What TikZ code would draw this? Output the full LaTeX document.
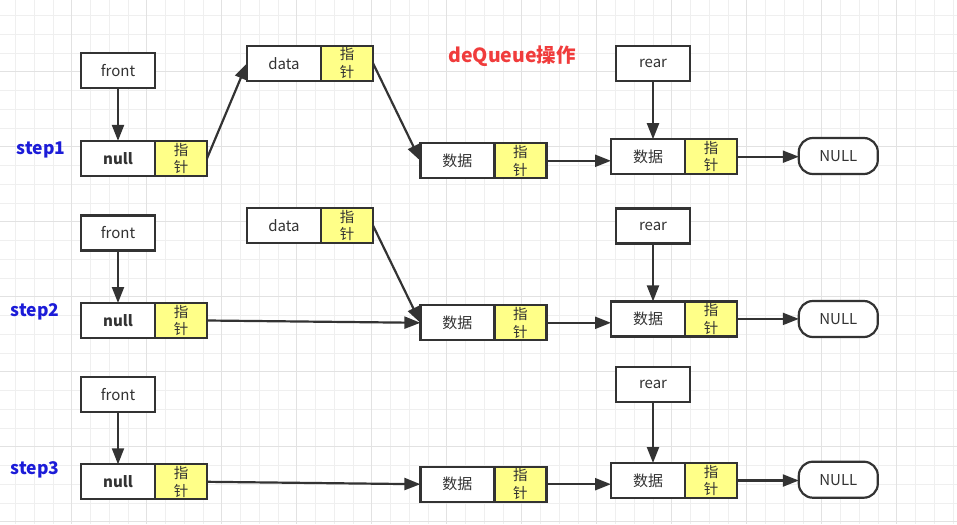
\documentclass[tikz,border=0pt]{standalone}
\usepackage{fontspec}
\setmainfont{Noto Sans CJK SC}
\usetikzlibrary{arrows.meta,positioning}

\definecolor{boxline}{HTML}{333333}
\definecolor{ptrfill}{HTML}{FFFF88}
\definecolor{titlered}{HTML}{F03C3C}
\definecolor{stepblue}{HTML}{1C1CD8}
\definecolor{gridminor}{HTML}{EFEFEF}
\definecolor{gridmajor}{HTML}{E2E2E2}

\tikzset{
  cell/.style={draw=boxline, line width=2.2pt, fill=white, text=boxline,
    minimum width=74pt, minimum height=35pt, inner sep=0pt, outer sep=0pt,
    font=\fontsize{15}{17}\selectfont},
  ptr/.style={cell, fill=ptrfill, minimum width=52pt, align=center,
    font=\fontsize{14.5}{17.5}\selectfont},
  nullcell/.style={cell, font=\fontsize{15}{17}\selectfont\bfseries},
  endcell/.style={cell, rounded corners=14pt, minimum width=79pt, minimum height=36pt},
  link/.style={draw=boxline, line width=2.2pt, -{Triangle[length=16pt,width=12pt]}},
  steplabel/.style={text=stepblue, font=\fontsize{17.5}{20}\selectfont\bfseries}
}

\begin{document}
\begin{tikzpicture}[x=1pt,y=-1pt]
  \useasboundingbox (0,0) rectangle (957,524);

  % rejilla de fondo
  \foreach \x in {15.45,34.2,...,957} \draw[gridminor, line width=0.8pt] (\x,0) -- (\x,524);
  \foreach \y in {15.45,34.2,...,524} \draw[gridminor, line width=0.8pt] (0,\y) -- (957,\y);
  \foreach \x in {71.7,146.7,...,957} \draw[gridmajor, line width=0.8pt] (\x,0) -- (\x,524);
  \foreach \y in {71.7,146.7,...,524} \draw[gridmajor, line width=0.8pt] (0,\y) -- (957,\y);

  % titulo
  \node[text=titlered, font=\fontsize{19.5}{22}\selectfont\bfseries] (title) at (512,56) {deQueue操作};

  % step1
  \node[steplabel] (step1) at (41,150) {step1};
  \node[cell] (front1) at (118,70.8) {front};
  \node[nullcell] (null1) at (118,158.4) {null};
  \node[ptr, right=0pt of null1] (null1p) {指\\针};
  \node[cell] (data1) at (284,63.2) {data};
  \node[ptr, right=0pt of data1] (data1p) {指\\针};
  \node[cell] (a1) at (457.4,160.8) {数据};
  \node[ptr, right=0pt of a1] (a1p) {指\\针};
  \node[cell] (rear1) at (653,63.2) {rear};
  \node[cell] (b1) at (648,156.7) {数据};
  \node[ptr, right=0pt of b1] (b1p) {指\\针};
  \node[endcell] (nil1) at (838.3,156) {NULL};

  \draw[link] (front1) -- (null1);
  \draw[link] (null1p.east) -- (data1.west);
  \draw[link] (data1p.east) -- (a1.west);
  \draw[link] (a1p.east) -- (a1p.east -| b1.west);
  \draw[link] (rear1.south) -- (rear1.south |- b1.north);
  \draw[link] (b1p.east) -- (b1p.east -| nil1.west);

  % step2
  \node[steplabel] (step2) at (35,312) {step2};
  \node[cell] (front2) at (118,233) {front};
  \node[nullcell] (null2) at (118,320.5) {null};
  \node[ptr, right=0pt of null2] (null2p) {指\\针};
  \node[cell] (data2) at (284,225.5) {data};
  \node[ptr, right=0pt of data2] (data2p) {指\\针};
  \node[cell] (a2) at (457.4,322.8) {数据};
  \node[ptr, right=0pt of a2] (a2p) {指\\针};
  \node[cell] (rear2) at (653,226) {rear};
  \node[cell] (b2) at (648,318.9) {数据};
  \node[ptr, right=0pt of b2] (b2p) {指\\针};
  \node[endcell] (nil2) at (838.3,319) {NULL};

  \draw[link] (front2) -- (null2);
  \draw[link] (null2p.east) -- (a2.west);
  \draw[link] (data2p.east) -- (a2.west);
  \draw[link] (a2p.east) -- (a2p.east -| b2.west);
  \draw[link] (rear2.south) -- (rear2.south |- b2.north);
  \draw[link] (b2p.east) -- (b2p.east -| nil2.west);

  % step3
  \node[steplabel] (step3) at (35,470) {step3};
  \node[cell] (front3) at (118,394.2) {front};
  \node[nullcell] (null3) at (118,481.8) {null};
  \node[ptr, right=0pt of null3] (null3p) {指\\针};
  \node[cell] (a3) at (457.4,484.2) {数据};
  \node[ptr, right=0pt of a3] (a3p) {指\\针};
  \node[cell] (rear3) at (653,384.7) {rear};
  \node[cell] (b3) at (648,480.5) {数据};
  \node[ptr, right=0pt of b3] (b3p) {指\\针};
  \node[endcell] (nil3) at (838.3,479.7) {NULL};

  \draw[link] (front3) -- (null3);
  \draw[link] (null3p.east) -- (a3.west);
  \draw[link] (a3p.east) -- (a3p.east -| b3.west);
  \draw[link] (rear3.south) -- (rear3.south |- b3.north);
  \draw[link] (b3p.east) -- (b3p.east -| nil3.west);
\end{tikzpicture}
\end{document}
